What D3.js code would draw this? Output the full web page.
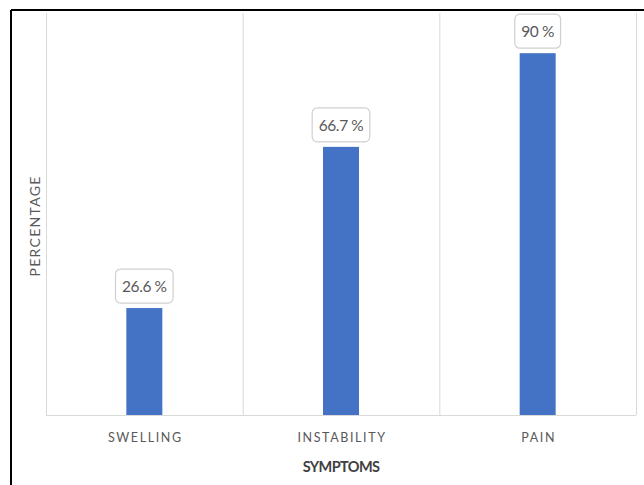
<!DOCTYPE html>
<html><head><meta charset="utf-8">
<script src="https://cdn.jsdelivr.net/npm/d3@7"></script>
<style>html,body{margin:0;padding:0;background:#fff;}svg{display:block;}</style>
</head><body>
<script>
const categories = ["SWELLING", "INSTABILITY", "PAIN"];
const values = [26.6, 66.7, 90];
const valueLabels = ["26.6 %", "66.7 %", "90 %"];
const xTitle = "SYMPTOMS";
const yTitle = "PERCENTAGE";

const W = 644, H = 485;
const svg = d3.select("body").append("svg").attr("width", W).attr("height", H);
const font = "Lato, 'Open Sans', sans-serif";

// frame
svg.append("line").attr("x1", 11).attr("x2", W).attr("y1", 10).attr("y2", 10).attr("stroke", "#000").attr("stroke-width", 2);
svg.append("line").attr("x1", 11).attr("x2", 11).attr("y1", 10).attr("y2", H).attr("stroke", "#000").attr("stroke-width", 2);

const m = {left: 46, right: 644 - 636, top: 13, bottom: 485 - 415};
const x = d3.scaleBand().domain(categories).range([m.left, W - m.right]).paddingInner(0).paddingOuter(0);
const y = d3.scaleLinear().domain([0, 100]).range([H - m.bottom, m.top]);

// vertical grid lines at band edges
const edges = categories.map(c => x(c)).concat([x(categories[categories.length - 1]) + x.bandwidth()]);
svg.append("g").selectAll("line").data(edges).join("line")
  .attr("x1", d => d + 0.5).attr("x2", d => d + 0.5)
  .attr("y1", y(100)).attr("y2", y(0))
  .attr("stroke", "#d9d9d9").attr("stroke-width", 1);

// x axis baseline
svg.append("line").attr("x1", x.range()[0]).attr("x2", x.range()[1])
  .attr("y1", y(0) + 0.5).attr("y2", y(0) + 0.5).attr("stroke", "#d9d9d9");

const barW = 36;
svg.append("g").selectAll("rect").data(values).join("rect")
  .attr("x", (d, i) => x(categories[i]) + x.bandwidth() / 2 - barW / 2)
  .attr("y", d => y(d))
  .attr("width", barW)
  .attr("height", d => y(0) - y(d))
  .attr("fill", "#4472c4");

// data labels in rounded boxes
const lg = svg.append("g");
values.forEach((v, i) => {
  const cx = x(categories[i]) + x.bandwidth() / 2;
  const t = lg.append("text").attr("x", cx).attr("y", y(v) - 5 - 17)
    .attr("text-anchor", "middle").attr("dominant-baseline", "central")
    .attr("font-family", font).attr("font-size", 15.5).attr("fill", "#595959")
    .attr("letter-spacing", -0.4)
    .text(valueLabels[i]);
  const bb = t.node().getBBox();
  const bw = bb.width + 13, bh = 34;
  lg.insert("rect", "text").attr("x", cx - bw / 2).attr("y", y(v) - 5 - bh)
    .attr("width", bw).attr("height", bh).attr("rx", 5)
    .attr("fill", "#fff").attr("stroke", "#d0d0d0").attr("stroke-width", 1.2);
});

// x axis labels
svg.append("g").selectAll("text").data(categories).join("text")
  .attr("x", d => x(d) + x.bandwidth() / 2 + 1)
  .attr("y", 442)
  .attr("text-anchor", "middle")
  .attr("font-family", font).attr("font-size", 12.5).attr("fill", "#595959")
  .attr("letter-spacing", 1.6)
  .text(d => d);

svg.append("text").attr("x", 341).attr("y", 472).attr("text-anchor", "middle")
  .attr("font-family", font).attr("font-size", 14.5).attr("font-weight", "bold")
  .attr("fill", "#404040").attr("letter-spacing", -0.6)
  .text(xTitle);

svg.append("text").attr("transform", "translate(40,226) rotate(-90)")
  .attr("text-anchor", "middle")
  .attr("font-family", font).attr("font-size", 14).attr("fill", "#595959")
  .attr("letter-spacing", 1.3)
  .text(yTitle);
</script>
</body></html>
